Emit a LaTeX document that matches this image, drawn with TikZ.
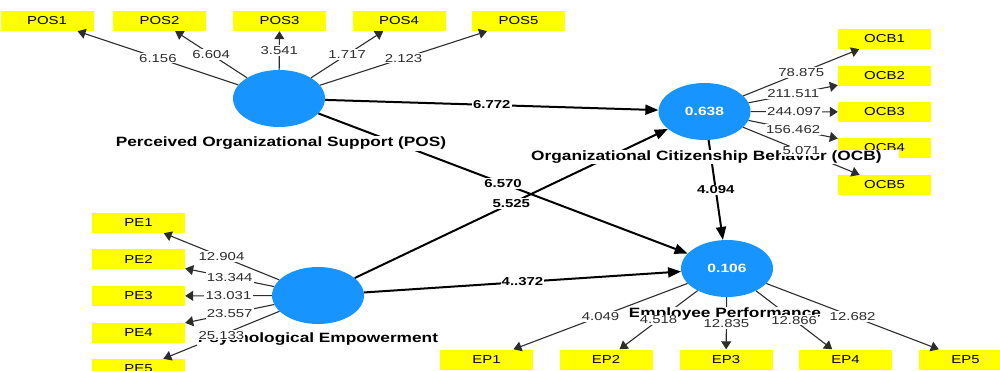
\documentclass[tikz,border=0pt]{standalone}
\usepackage{fontspec}
\setmainfont{Liberation Sans}
\newfontfamily\labfont[FakeStretch=1.3]{Liberation Sans}
\newfontfamily\ttlfont[FakeStretch=1.28]{Liberation Sans}
\usetikzlibrary{shapes.geometric,arrows.meta}
\definecolor{lvblue}{RGB}{24,148,255}
\definecolor{indy}{RGB}{255,255,0}
\definecolor{lnk}{RGB}{45,45,45}
\begin{document}
\begin{tikzpicture}[x=1pt,y=-1pt,
  lv/.style={ellipse, fill=lvblue, minimum width=92pt, minimum height=57pt, inner sep=0pt, text=white, font=\labfont\bfseries\fontsize{12}{12}\selectfont},
  ind/.style={rectangle, fill=indy, minimum width=93pt, minimum height=20pt, inner sep=0pt, font=\labfont\fontsize{11.5}{12}\selectfont},
  lvname/.style={fill=white, inner sep=1pt, font=\ttlfont\bfseries\fontsize{13.5}{14}\selectfont},
  outerarrow/.style={draw=lnk, line width=1.1pt, -{Triangle[length=8pt,width=10pt]}},
  innerarrow/.style={draw=black, line width=2pt, -{Triangle[length=13pt,width=10pt]}},
  wl/.style={midway, fill=white, inner sep=1.2pt, font=\labfont\fontsize{11.5}{12}\selectfont, text=lnk},
  bl/.style={midway, fill=white, inner sep=1.2pt, font=\labfont\bfseries\fontsize{11.5}{12}\selectfont},
]
\useasboundingbox (0,0) rectangle (1000,371);

% constructs
\node[lv] (POS) at (279,98.5) {};
\node[lv] (OCB) at (704.5,111.5) {0.638};
\node[lv] (EP) at (727,268.5) {0.106};
\node[lv] (PE) at (318,295.5) {};

% indicators
\node[ind] (POS1) at (47,21) {POS1};
\node[ind] (POS2) at (159.5,21) {POS2};
\node[ind] (POS3) at (279.5,21) {POS3};
\node[ind] (POS4) at (399,21) {POS4};
\node[ind] (POS5) at (518.5,21) {POS5};

\node[ind] (OCB1) at (884.5,39) {OCB1};
\node[ind] (OCB2) at (884.5,76) {OCB2};
\node[ind] (OCB3) at (884.5,112) {OCB3};
\node[ind] (OCB4) at (884.5,148) {OCB4};
\node[ind] (OCB5) at (884.5,185) {OCB5};

\node[ind] (PE1) at (138.5,223) {PE1};
\node[ind] (PE2) at (138.5,259) {PE2};
\node[ind] (PE3) at (138.5,296) {PE3};
\node[ind] (PE4) at (138.5,332.5) {PE4};
\node[ind] (PE5) at (138.5,369) {PE5};

\node[ind] (EP1) at (486.5,359.5) {EP1};
\node[ind] (EP2) at (606,359.5) {EP2};
\node[ind] (EP3) at (726,359.5) {EP3};
\node[ind] (EP4) at (845.5,359.5) {EP4};
\node[ind] (EP5) at (965.5,359.5) {EP5};

% connectors
\foreach \i in {1,...,5} {
  \draw[outerarrow] (POS) -- (POS\i);
  \draw[outerarrow] (OCB) -- (OCB\i);
  \draw[outerarrow] (PE) -- (PE\i);
  \draw[outerarrow] (EP) -- (EP\i);
}
\draw[innerarrow] (POS) -- (OCB);
\draw[innerarrow] (POS) -- (EP);
\draw[innerarrow] (PE) -- (OCB);
\draw[innerarrow] (PE) -- (EP);
\draw[innerarrow] (OCB) -- (EP);

% construct names
\node[lvname] (POSn) at (281,143.5) {Perceived Organizational Support (POS)};
\node[lvname, anchor=west] (OCBn) at (530,157) {Organizational Citizenship Behavior (OCB)\hspace*{16pt}};
\node[lvname] (EPn) at (725,314) {Employee Performance};
\node[lvname] (PEn) at (318,339.5) {Psychological Empowerment};

% edge labels
\path (POS) -- (POS1) node[wl] (lpos1) {6.156};
\path (POS) -- (POS2) node[wl] (lpos2) {6.604};
\path (POS) -- (POS3) node[wl] (lpos3) {3.541};
\path (POS) -- (POS4) node[wl] (lpos4) {1.717};
\path (POS) -- (POS5) node[wl] (lpos5) {2.123};

\path (OCB) -- (OCB1) node[wl] (locb1) {78.875};
\path (OCB) -- (OCB2) node[wl] (locb2) {211.511};
\path (OCB) -- (OCB3) node[wl] (locb3) {244.097};
\path (OCB) -- (OCB4) node[wl] (locb4) {156.462};
\path (OCB) -- (OCB5) node[wl] (locb5) {5.071};

\path (PE) -- (PE1) node[wl] (lpe1) {12.904};
\path (PE) -- (PE2) node[wl] (lpe2) {13.344};
\path (PE) -- (PE3) node[wl] (lpe3) {13.031};
\path (PE) -- (PE4) node[wl] (lpe4) {23.557};
\path (PE) -- (PE5) node[wl] (lpe5) {25.133};

\path (EP) -- (EP1) node[wl] (lep1) {4.049};
\path (EP) -- (EP2) node[wl] (lep2) {4.518};
\path (EP) -- (EP3) node[wl] (lep3) {12.835};
\path (EP) -- (EP4) node[wl] (lep4) {12.866};
\path (EP) -- (EP5) node[wl] (lep5) {12.682};

\path (POS) -- (OCB) node[bl] (ls1) {6.772};
\path (POS) -- (EP) node[bl] (ls2) {6.570};
\path (PE) -- (OCB) node[bl] (ls3) {5.525};
\path (PE) -- (EP) node[bl] (ls4) {4..372};
\path (OCB) -- (EP) node[bl] (ls5) {4.094};
\end{tikzpicture}
\end{document}
